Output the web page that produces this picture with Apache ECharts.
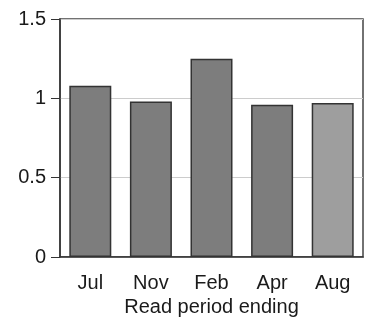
<!DOCTYPE html>
<html>
<head>
<meta charset="utf-8">
<script src="https://cdn.jsdelivr.net/npm/echarts@6/dist/echarts.min.js"></script>
<style>
  html, body { margin: 0; padding: 0; background: #fff; }
  #chart { width: 367px; height: 318px; }
</style>
</head>
<body>
<div id="chart"></div>
<script>
// read period data
var periods = ['Jul', 'Nov', 'Feb', 'Apr', 'Aug'];
var ratios = [1.08, 0.98, 1.25, 0.96, 0.97];
var yTicks = [0, 0.5, 1, 1.5];

var barColors = ['#7d7d7d', '#7d7d7d', '#7d7d7d', '#7d7d7d', '#9e9e9e'];

var chart = echarts.init(document.getElementById('chart'));
chart.setOption({
    animation: false,
    grid: {
        left: 60,
        right: 4,
        top: 19,
        bottom: 61,
        outerBoundsMode: 'none',
        show: true,
        borderColor: '#444',
        borderWidth: 1.5
    },
    xAxis: {
        type: 'category',
        data: periods,
        name: 'Read period ending',
        nameLocation: 'middle',
        nameGap: 38,
        nameTextStyle: { fontSize: 20, color: '#1a1a1a', fontFamily: 'Liberation Sans' },
        axisLine: { lineStyle: { color: '#333', width: 1.5 } },
        axisTick: { alignWithLabel: true, length: 8, lineStyle: { color: '#333' } },
        axisLabel: { fontSize: 20, color: '#1a1a1a', margin: 16, fontFamily: 'Liberation Sans' }
    },
    yAxis: {
        type: 'value',
        min: 0,
        max: 1.5,
        interval: 0.5,
        axisLine: { show: true, lineStyle: { color: '#333', width: 1.5 } },
        axisTick: { show: true, length: 9, lineStyle: { color: '#333' } },
        axisLabel: {
            fontSize: 20, color: '#1a1a1a', margin: 14, fontFamily: 'Liberation Sans',
            formatter: function (v) { return yTicks.indexOf(v) >= 0 ? String(v) : ''; }
        },
        splitLine: { lineStyle: { color: '#cccccc', width: 1 } }
    },
    series: [{
        type: 'bar',
        data: ratios,
        barWidth: 42,
        itemStyle: {
            color: function (p) { return barColors[p.dataIndex]; },
            borderColor: '#333',
            borderWidth: 1.5
        }
    }]
});
</script>
</body>
</html>
